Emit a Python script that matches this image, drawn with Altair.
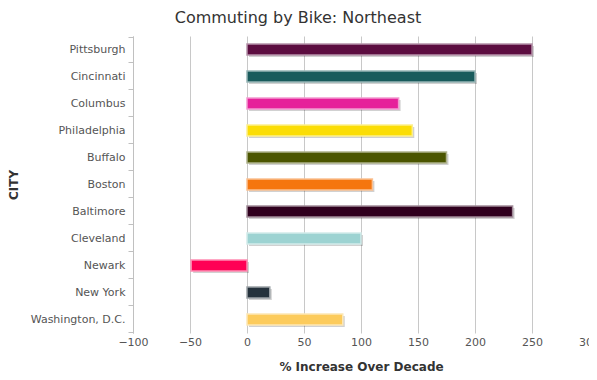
import altair as alt
import pandas as pd

cities = ["Pittsburgh", "Cincinnati", "Columbus", "Philadelphia", "Buffalo", "Boston",
          "Baltimore", "Cleveland", "Newark", "New York", "Washington, D.C."]
increase = [250, 200, 133, 145, 175, 110, 233, 100, -49, 20, 84]
colors = ["#5c0d40", "#195b5c", "#e6219a", "#fbdd06", "#4b5500", "#f5760f",
          "#30001e", "#9dd3d2", "#ff0055", "#25323c", "#fccb5c"]
x_ticks = [-100, -50, 0, 50, 100, 150, 200, 250, 300]


def lighten(hexcol, t=0.55):
    r, g, b = (int(hexcol[i:i + 2], 16) for i in (1, 3, 5))
    r, g, b = (int(c + (255 - c) * t) for c in (r, g, b))
    return f"#{r:02x}{g:02x}{b:02x}"


df = pd.DataFrame({"city": cities, "value": increase})

font = "DejaVu Sans"

y_enc = alt.Y("city:N", sort=cities, title="CITY",
              axis=alt.Axis(tickBand="extent", domainColor="#c0c0c0", tickColor="#c0c0c0",
                            tickSize=5, labelPadding=3, labelFontSize=11, labelColor="#555555",
                            labelFont=font, titleFont=font, titleFontSize=12,
                            titleFontWeight="bold", titleColor="#333333", titlePadding=10,
                            grid=False))
x_enc = alt.X("value:Q", title="% Increase Over Decade",
              scale=alt.Scale(domain=[-100, 300], nice=False, zero=False),
              axis=alt.Axis(values=x_ticks, grid=True, gridColor="#c8c8c8", domain=False,
                            ticks=False, labelPadding=3, labelFontSize=11,
                            labelColor="#555555", labelFont=font, titleFont=font,
                            titleFontSize=12, titleFontWeight="bold", titleColor="#333333",
                            titlePadding=14, labelFlush=False))

base = alt.Chart(df)

shadow = base.mark_bar(size=11, color="#000000", opacity=0.18, xOffset=2, x2Offset=2,
                       yOffset=2, y2Offset=2).encode(
    y=y_enc, x=x_enc, x2=alt.datum(0))

bars = base.mark_bar(size=11, strokeWidth=1.5).encode(
    y=y_enc, x=x_enc, x2=alt.datum(0),
    color=alt.Color("city:N", scale=alt.Scale(domain=cities, range=colors), legend=None),
    stroke=alt.Stroke("city:N", scale=alt.Scale(domain=cities,
                                                range=[lighten(c) for c in colors]),
                      legend=None),
)

chart = alt.layer(shadow, bars).properties(
    width=456, height=297,
    title=alt.TitleParams("Commuting by Bike: Northeast", font=font, fontSize=16,
                          fontWeight="normal", color="#333333", dx=-63, offset=4),
    autosize=alt.AutoSizeParams(type="none"),
    padding={"left": 125, "top": 28, "right": 0, "bottom": 39},
).resolve_scale(x="shared", y="shared").configure_view(stroke=None)

chart.save("out.html", embed_options={"renderer": "svg", "actions": False})
